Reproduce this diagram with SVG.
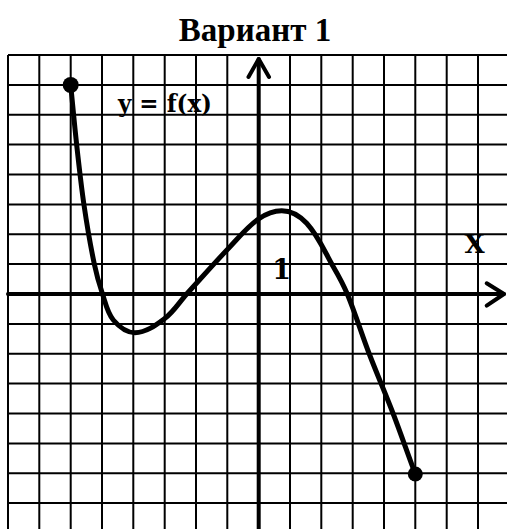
<svg xmlns="http://www.w3.org/2000/svg" width="507" height="529" viewBox="0 0 507 529">
<style>
.grid{stroke:#000;stroke-width:2;fill:none}
.axis{stroke:#000;stroke-width:4;fill:none;stroke-linecap:round;stroke-linejoin:round}
.curve{stroke:#000;stroke-width:5;fill:none;stroke-linecap:round;stroke-linejoin:round}
.dot{fill:#000}
.lbl{font-family:"DejaVu Serif",serif;font-weight:bold;fill:#000}
.title{font-family:"Liberation Serif","Times New Roman",serif;font-weight:bold;font-size:33px;fill:#000}
</style>
<rect width="507" height="529" fill="#fff"/>
<text id="title" class="title" x="255" y="41" text-anchor="middle">Вариант 1</text>
<g id="grid" class="grid">
<path d="M8 55H507M8 84.9H507M8 114.7H507M8 144.6H507M8 174.5H507M8 204.4H507M8 234.2H507M8 264.1H507M8 323.9H507M8 353.7H507M8 383.6H507M8 413.5H507M8 443.4H507M8 473.2H507M8 503.1H507"/>
<path d="M8 55V529M39.3 55V529M70.7 55V529M102 55V529M133.3 55V529M164.7 55V529M196 55V529M227.3 55V529M290 55V529M321.3 55V529M352.7 55V529M384 55V529M415.3 55V529M446.7 55V529M478 55V529"/>
</g>
<g id="axes" class="axis">
<path d="M8 294H504"/>
<path d="M486.7 283.3L504 294L486.7 305.7"/>
<path d="M258.7 529V59"/>
<path d="M248.5 77L258.7 59L269 77"/>
</g>
<g id="graph">
<path class="curve" d="M70.7 85C72.7 105 74.5 125 76.7 145C78.9 165 81.1 185.1 84 205C86.9 224.8 90.2 244.4 94.3 264C96.4 274.2 99.2 284.2 102.5 294C105.5 302.9 107.3 312.8 113.3 320C118.7 326.4 126.6 332.7 135 332.7C146.1 332.7 156.1 325 165 318.3C173.7 311.8 179.4 302.1 186.7 294C201.1 278.2 215.2 262.2 230 246.7C239.1 237.2 247.7 226.5 258.5 219C265.2 214.3 273.5 210.7 281.7 210.7C291 210.7 300.4 216.5 306.7 223.3C318.2 235.8 324.8 252 333.3 266.7C338.4 275.5 343.4 284.6 347.3 294C355.4 313.7 361.7 334.1 369.3 354C377 374.1 385.6 393.9 393.3 414C400.9 433.9 407.8 454 415.3 474"/>
<circle class="dot" cx="70.7" cy="85" r="8"/>
<circle class="dot" cx="415.3" cy="474" r="7.5"/>
</g>
<g id="labels">
<text class="lbl" x="118" y="112" font-size="24" textLength="94" lengthAdjust="spacingAndGlyphs">y = f(x)</text>
<text class="lbl" x="281.7" y="278.5" font-size="27" text-anchor="middle">1</text>
<text class="lbl" x="474.7" y="252.7" font-size="26" text-anchor="middle">X</text>
</g>
</svg>
